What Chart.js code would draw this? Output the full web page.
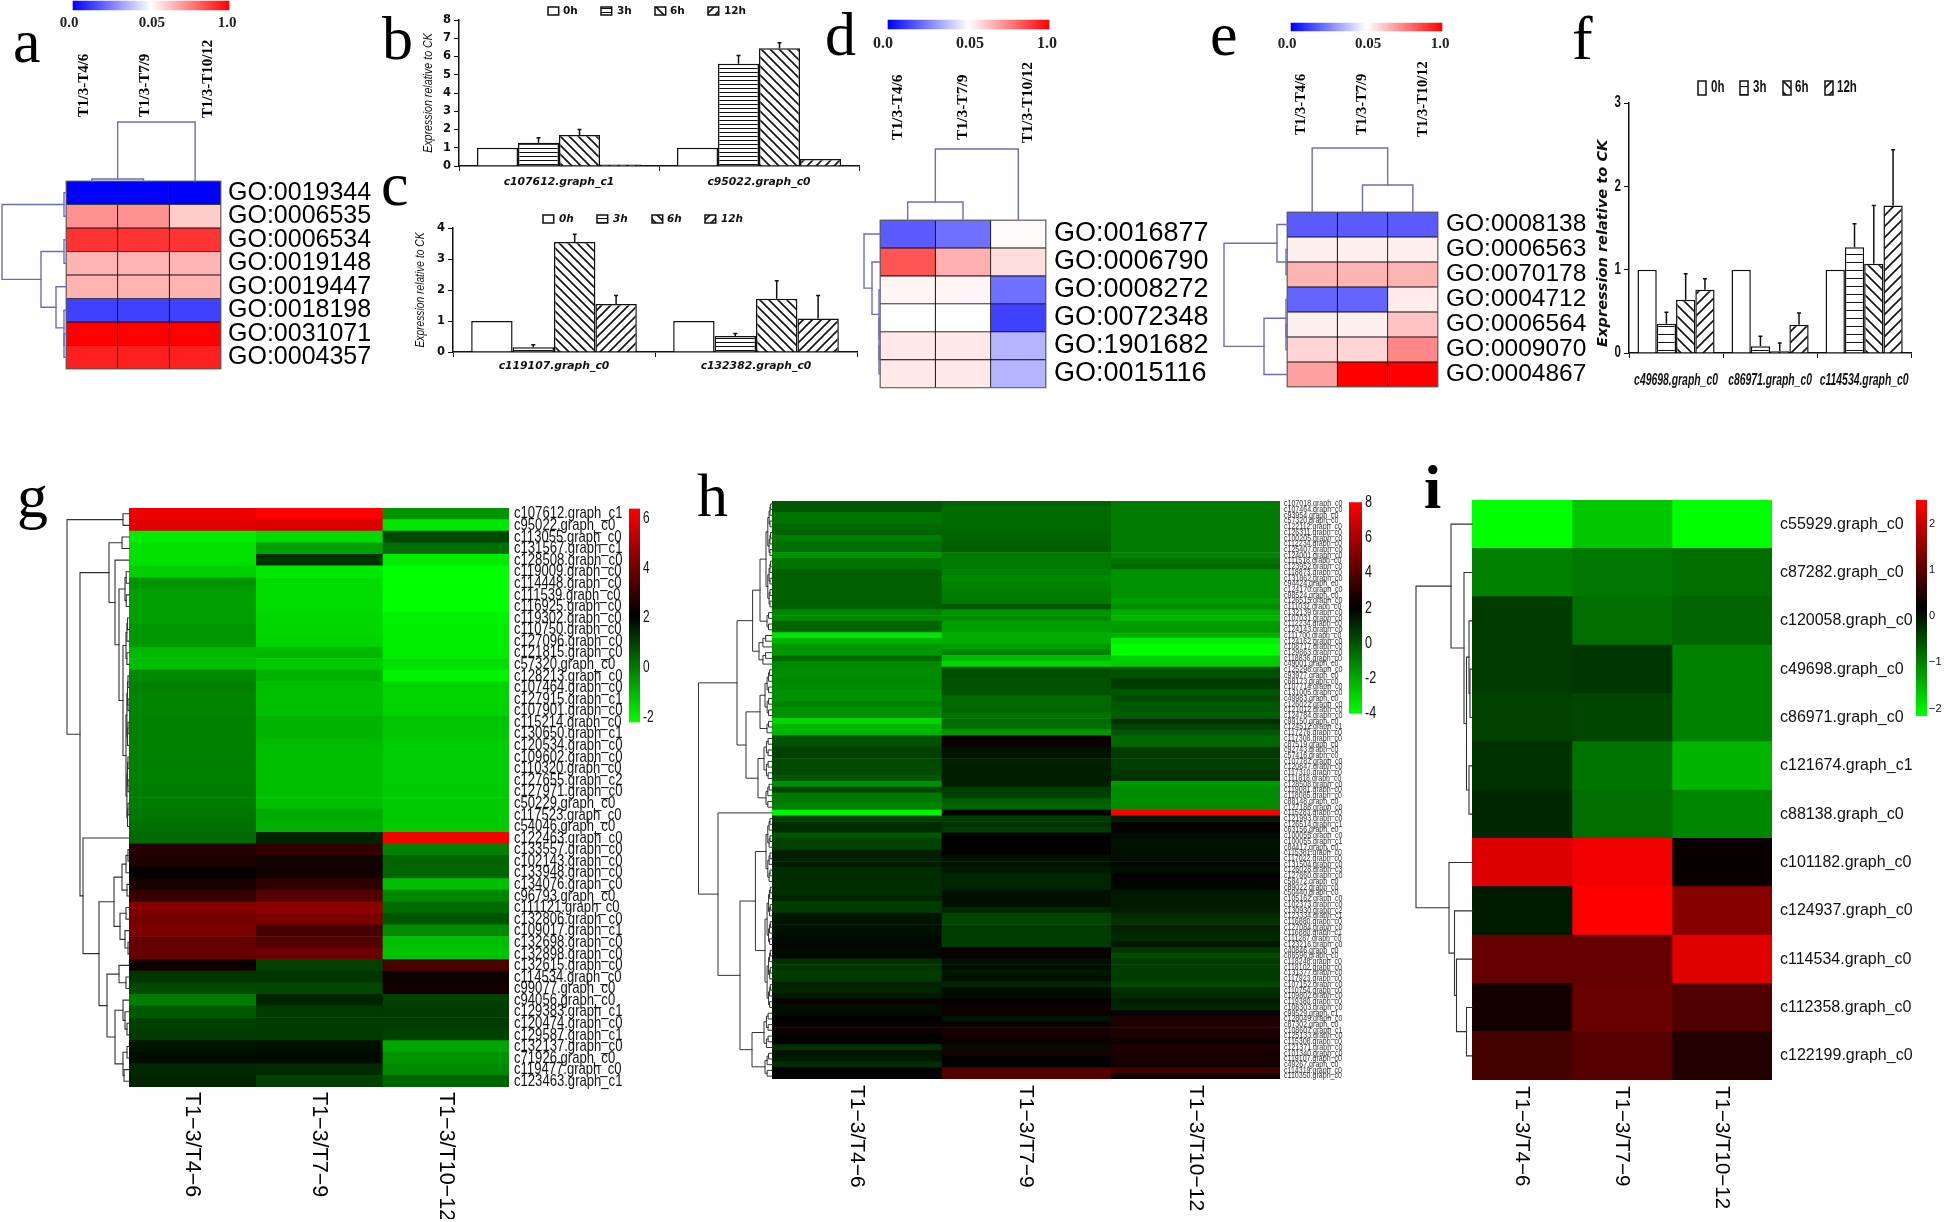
<!DOCTYPE html>
<html><head><meta charset="utf-8">
<script src="https://cdn.jsdelivr.net/npm/chart.js@4"></script>
<style>
html,body{margin:0;padding:0;background:#fff;width:1946px;height:1222px;overflow:hidden}
canvas{position:absolute}
.ltr{position:absolute;line-height:0;font-family:"Liberation Serif",serif;font-size:62px;color:#000;white-space:pre}
</style></head><body>
<script>
/* ---------- data ---------- */
const timeLabels=['0h','3h','6h','12h'];
const bCats=['c107612.graph_c1','c95022.graph_c0'];
const b0h=[1,1], b3h=[1.27,5.6], b6h=[1.7,6.45], b12h=[0.08,0.38];
const bErr3h=[1.55,6.05], bErr6h=[2.0,6.75];
const cCats=['c119107.graph_c0','c132382.graph_c0'];
const c0h=[1,1], c3h=[0.15,0.52], c6h=[3.55,1.72], c12h=[1.55,1.08];
const cErr3h=[0.23,0.6], cErr6h=[3.8,2.3], cErr12h=[1.82,1.82];
const fCats=['c49698.graph_c0','c86971.graph_c0','c114534.graph_c0'];
const f0h=[1,1,1], f3h=[0.35,0.08,1.27], f6h=[0.64,0.02,1.07], f12h=[0.76,0.34,1.77];
const fErr3h=[0.49,0.2,1.55], fErr6h=[0.95,0.12,1.77], fErr12h=[0.89,0.48,2.44];

const goCols=['T1/3-T4/6','T1/3-T7/9','T1/3-T10/12'];
const geneCols=['T1\u22123/T4\u22126','T1\u22123/T7\u22129','T1\u22123/T10\u221212'];
const pTicks=['0.0','0.05','1.0'];

const aRows=['GO:0019344','GO:0006535','GO:0006534','GO:0019148','GO:0019447','GO:0018198','GO:0031071','GO:0004357'];
const aVals=[[0,0,0],[.716,.716,.6],[.9,.9,.9],[.647,.647,.647],[.647,.647,.647],[.125,.125,.125],[1,1,1],[.94,.94,.94]];
const dRows=['GO:0016877','GO:0006790','GO:0008272','GO:0072348','GO:1901682','GO:0015116'];
const dVals=[[.176,.22,.51],[.833,.657,.565],[.52,.52,.22],[.5,.5,.125],[.545,.545,.353],[.545,.545,.353]];
const eRows=['GO:0008138','GO:0006563','GO:0070178','GO:0004712','GO:0006564','GO:0009070','GO:0004867'];
const eVals=[[.176,.176,.176],[.53,.53,.53],[.647,.647,.647],[.196,.196,.54],[.53,.53,.618],[.584,.584,.735],[.686,1,1]];

const gRows=['c107612.graph_c1','c95022.graph_c0','c113055.graph_c0','c131567.graph_c1','c128508.graph_c0','c119009.graph_c0','c114448.graph_c0','c111539.graph_c0','c116925.graph_c0','c119302.graph_c0','c110750.graph_c0','c127096.graph_c0','c121815.graph_c0','c57320.graph_c0','c128213.graph_c0','c107464.graph_c0','c127915.graph_c1','c107901.graph_c0','c115214.graph_c0','c130650.graph_c1','c120534.graph_c0','c109602.graph_c0','c110320.graph_c0','c127655.graph_c2','c127971.graph_c0','c50229.graph_c0','c117523.graph_c0','c54046.graph_c0','c122463.graph_c0','c133557.graph_c0','c102143.graph_c0','c133948.graph_c0','c134076.graph_c0','c96793.graph_c0','c111121.graph_c0','c132806.graph_c0','c109017.graph_c1','c132698.graph_c0','c132898.graph_c0','c132615.graph_c0','c114534.graph_c0','c99077.graph_c0','c94056.graph_c0','c129383.graph_c1','c120474.graph_c0','c129587.graph_c1','c132137.graph_c0','c71926.graph_c0','c119477.graph_c0','c123463.graph_c1'];
const gVals=[[6.1,6.4,-.4],[5.9,5.8,-1.8],[-1.9,-1.6,.9],[-1.7,-.6,.25],[-1.7,1.25,-1.9],[-1.4,-1.8,-2.2],[-.4,-1.6,-2.2],[-.6,-1.6,-2.2],[-.6,-1.6,-2.2],[-.6,-1.55,-2],[-.45,-1.55,-1.9],[-.45,-1.5,-1.9],[-1,-1,-1.9],[-1.1,-1.3,-1.7],[-.2,-.9,-2],[-.1,-1.1,-1.5],[-.15,-1.15,-1.5],[-.15,-1.1,-1.45],[-.1,-.95,-1.2],[-.1,-.95,-1.25],[-.05,-1.05,-1.35],[-.05,-1.1,-1.35],[-.05,-1.1,-1.35],[-.05,-1.1,-1.35],[0,-1.1,-1.3],[0,-1.1,-1.3],[.1,-.8,-1.3],[.2,-.85,-1.3],[.3,1.5,6.3],[2.7,2.95,-.1],[2.6,2.4,.4],[2.15,2.4,.4],[2.5,2.9,-1.1],[3,3.5,-.2],[4.3,4.45,.3],[4.05,4.2,.65],[4.2,3.3,-.25],[3.8,3.5,-1.1],[3.8,3.9,-1.2],[2.35,1,3.35],[1.2,1.2,2.3],[.85,.9,2.4],[0,1.5,1],[.6,1.1,1.1],[1,1.1,1.1],[1.1,1.1,1],[1.75,1.85,-.7],[1.9,1.9,-.4],[1.45,1.4,-.2],[1.5,1,.4]];

const hRows=['c107018.graph_c0','c107464.graph_c0','c93954.graph_c0','c57320.graph_c0','c122112.graph_c0','c126311.graph_c0','c100205.graph_c0','c112234.graph_c0','c125407.graph_c0','c124001.graph_c0','c111518.graph_c0','c123952.graph_c0','c118873.graph_c0','c131862.graph_c0','c94424.graph_c0','c124170.graph_c0','c98524.graph_c0','c126515.graph_c0','c111032.graph_c0','c132139.graph_c0','c107031.graph_c0','c112234.graph_c0','c124143.graph_c0','c111700.graph_c0','c124162.graph_c0','c108717.graph_c0','c129863.graph_c0','c118836.graph_c0','c49001.graph_c0','c125296.graph_c0','c93977.graph_c0','c68173.graph_c0','c107714.graph_c0','c131005.graph_c0','c49983.graph_c0','c126022.graph_c0','c121012.graph_c0','c124784.graph_c0','c99150.graph_c0','c124512.graph_c1','c117276.graph_c0','c117308.graph_c0','c87519.graph_c0','c92743.graph_c0','c57416.graph_c0','c107787.graph_c0','c120847.graph_c0','c117310.graph_c0','c111818.graph_c0','c128508.graph_c0','c119081.graph_c0','c118085.graph_c0','c88148.graph_c0','c127186.graph_c0','c115283.graph_c0','c121993.graph_c0','c126514.graph_c1','c63156.graph_c0','c100055.graph_c0','c100055.graph_c1','c84417.graph_c0','c115381.graph_c0','c117022.graph_c0','c131504.graph_c0','c126028.graph_c3','c127860.graph_c0','c58472.graph_c0','c89022.graph_c0','c50440.graph_c0','c105162.graph_c0','c102373.graph_c0','c130930.graph_c2','c123334.graph_c1','c116880.graph_c0','c127084.graph_c0','c116880.graph_c1','c111287.graph_c0','c123216.graph_c0','c40846.graph_c0','c86596.graph_c0','c118248.graph_c0','c118102.graph_c0','c131377.graph_c0','c117923.graph_c0','c107152.graph_c0','c110754.graph_c0','c109802.graph_c0','c119380.graph_c0','c108303.graph_c0','c99529.graph_c1','c128049.graph_c0','c87302.graph_c0','c108607.graph_c1','c125133.graph_c0','c115308.graph_c0','c121371.graph_c0','c101340.graph_c0','c119107.graph_c0','c49267.graph_c0','c114319.graph_c0','c110350.graph_c0'];
const hVals=[[-.1,-.35,-.9],[-.1,-.55,-.9],[-.7,-.55,-.9],[-.7,-.55,-.9],[-.5,-.5,-.9],[-.35,-.4,-.9],[-.95,-.35,-.9],[-.6,-.3,-.9],[-.6,-.2,-.9],[-1.5,-.9,-1.1],[-.7,-.9,-.7],[-.7,-.9,-.5],[-.25,-1,-1.4],[-.25,-1.25,-1.4],[-.25,-1.1,-1.45],[-.25,-1,-1.4],[-.25,-.95,-1.4],[-.25,-.95,-1.7],[-.3,-.1,-1.4],[-1.2,-1.5,-2],[-1.25,-1.3,-2.3],[-.35,-1.7,-1.7],[-.35,-1.75,-1.6],[-3.4,-2.1,-2.1],[-2.2,-2.1,-3.6],[-1.6,-1.7,-4],[-1.6,-1.1,-4],[-.4,-2.4,-2.9],[-1.2,-3.1,-2.8],[-1.3,.15,.05],[-1.3,.15,.05],[-1.2,.05,.6],[-1.25,.1,.55],[-1.4,.05,-.1],[-1.4,-.5,.2],[-1.1,-.5,-.05],[-1.4,-.4,-.15],[-1.4,-.7,-.2],[-3.1,-.5,.9],[-2.3,-.65,.45],[-2.3,-1.6,0],[.1,2.3,-.5],[.1,2.3,-.5],[.5,1.6,.6],[.5,1.5,.6],[.3,1.2,.55],[.25,1.25,.55],[.25,1.3,.7],[-.1,1.3,.75],[-1.4,1.3,-1.6],[.35,.55,-1.3],[-.8,.5,-1.3],[-.9,-.2,-1.3],[-1.1,-.35,-1.3],[-3.8,1.95,8],[.5,.6,1.4],[1,.85,2.1],[1,.6,2.1],[0,1.95,1.7],[.45,1.95,1.6],[.45,1.95,1.6],[1.3,1.95,1.6],[1.3,1.55,1.7],[1.3,1.55,1.8],[.95,1.35,1.6],[.95,1.1,1.95],[.95,1.1,1.95],[.95,1.15,1.9],[.9,1.6,1.4],[1.15,1.6,1.4],[.55,1.6,1.4],[.55,1.1,1.3],[1.5,.45,1],[1.5,.4,.8],[1.6,.55,1.2],[1.6,.55,1.1],[1.8,.55,1],[1.8,.6,1.5],[1.7,2.2,.7],[1.85,2.2,.2],[.9,1.6,.6],[.7,1.7,.6],[.6,1.4,.6],[.6,1.65,.6],[1.2,1.1,.3],[1.1,1.7,.9],[1.4,1.7,1],[2.25,2.1,1.3],[1.7,2.3,1.1],[1.7,2.3,1.9],[2,1.5,2.7],[2.2,2.2,2.7],[2.3,2.55,2.7],[2.05,2.4,2.7],[2.05,2.3,2.35],[.8,1.7,2.7],[1.5,2.5,2.6],[1.4,2.05,2.55],[.9,2.05,2.5],[2,4,3.5],[2,4,2.4]];

const iRows=['c55929.graph_c0','c87282.graph_c0','c120058.graph_c0','c49698.graph_c0','c86971.graph_c0','c121674.graph_c1','c88138.graph_c0','c101182.graph_c0','c124937.graph_c0','c114534.graph_c0','c112358.graph_c0','c122199.graph_c0'];
const iVals=[[-2.16,-1.65,-2.16],[-1,-.92,-.83],[-.37,-.83,-.74],[-.37,-.32,-1],[-.42,-.46,-1],[-.28,-.88,-1.47],[-.19,-.83,-1.06],[2.2,2.38,.25],[-.08,2.52,1.42],[1.1,1.1,2.24],[.36,1.14,.91],[.82,.96,.5]];

const gScaleTicks=[6,4,2,0,-2], hScaleTicks=[8,6,4,2,0,-2,-4], iScaleTicks=[2,1,0,-1,-2];

/* cluster trees: [merge height, left, right], leaves are row numbers */
const bis=(lo,hi,h)=>{if(lo===hi)return lo;const m=(lo+hi)>>1;return [h,bis(lo,m,h*.7),bis(m+1,hi,h*.7)];};
const treeA=[64,[2,0,1],[25,[2,2,3],[10,4,[2,5,[2,6,7]]]]], topA=[59,[2,0,1],2];
const treeD=[16,0,[8,1,[1,2,[1,3,[1,4,5]]]]], topD=[71,[18,0,1],2];
const treeE=[63,[10,0,[1,1,2]],[23,[1,3,[1,4,5]],6]], topE=[64,0,[27,1,2]];
const treeG=[62,[6,0,1],[49,[20,[7,2,3],[14,4,[10,bis(5,8,4),[6,bis(9,13,3),bis(14,27,3)]]]],[46,28,[30,[15,[7,[3,[1,29,30],31],[2,32,33]],[9,[3,34,35],[4,36,[1,37,38]]]],[22,[10,39,[3,40,41]],[14,[6,42,[4,43,[2,44,45]]],[6,[2,46,47],[5,48,49]]]]]]]];
const treeH=[73.5,[35,[19.4,[12,bis(0,18,6),bis(19,22,5)],bis(23,28,13)],[26,[12,bis(29,37,7),bis(38,40,5)],[14,bis(41,48,8),bis(49,53,6)]]],[54,54,[32,[16.6,bis(55,66,6),bis(67,88,7)],[20,bis(89,95,8),bis(96,100,7)]]]];
const treeI=[56,[21,0,[8,1,[5.5,[3,2,[2,3,4]],[3,5,6]]]],[23,7,[17.5,8,[15.5,9,[5.5,10,11]]]]];

/* ---------- helpers ---------- */
Chart.defaults.animation=false;
Chart.defaults.responsive=false;
Chart.defaults.devicePixelRatio=1;
Chart.defaults.plugins.legend.display=false;
Chart.defaults.plugins.tooltip.enabled=false;
Chart.defaults.color='#000';
const SANS='"Liberation Sans",Arial,sans-serif', SERIF='"Liberation Serif",serif', DEJA='"DejaVu Sans",sans-serif';

function mkCanvas(x,y,w,h,squeeze){const c=document.createElement('canvas');c.width=w;c.height=h;c.style.left=x+'px';c.style.top=y+'px';c.style.width=w+'px';c.style.height=h+'px';document.body.appendChild(c);
  if(squeeze){const ctx=c.getContext('2d'),f=ctx.fillText.bind(ctx);ctx.fillText=(t,px,py)=>{const k=squeeze(t);return k<1?f(t,px,py,ctx.measureText(t).width*k):f(t,px,py);};}
  return c;}
const clamp=v=>Math.max(0,Math.min(255,Math.round(v)));
const bwr=v=>v<.5?`rgb(${clamp(510*v)},${clamp(510*v)},255)`:`rgb(255,${clamp(510*(1-v))},${clamp(510*(1-v))})`;
const gbr=(lo,hi)=>v=>{const mid=(lo+hi)/2,half=(hi-lo)/2;return v<mid?`rgb(0,${clamp((mid-v)/half*255)},0)`:`rgb(${clamp((v-mid)/half*255)},0,0)`;};

function pat(kind,sp,lw){
  const c=document.createElement('canvas');const x=c.getContext('2d');
  if(kind==='h'){c.width=8;c.height=sp;x.fillStyle='#fff';x.fillRect(0,0,8,sp);x.fillStyle='#111';x.fillRect(0,0,8,lw);}
  else{c.width=sp;c.height=sp;x.fillStyle='#fff';x.fillRect(0,0,sp,sp);x.strokeStyle='#111';x.lineWidth=lw;x.lineCap='square';
    const line=(a,b,d,e)=>{x.beginPath();x.moveTo(a,b);x.lineTo(d,e);x.stroke();};
    if(kind==='b'){line(-sp,0,sp,2*sp);line(0,0,sp,sp);line(0,-sp,2*sp,sp);}
    else{line(0,sp,sp,0);line(-sp,sp,sp,-sp);line(0,2*sp,2*sp,0);}}
  return x.createPattern(c,'repeat');
}

const treePlugin={id:'treePlugin',afterDraw(ch,_,o){
  const ctx=ch.ctx,xs=ch.scales.x,ys=ch.scales.y,a=ch.chartArea;
  ctx.save();ctx.strokeStyle=o.color;ctx.lineWidth=o.width;ctx.lineCap='square';
  const walk=(n,pos,seg)=>{if(typeof n==='number')return{p:pos(n),d:0};const A=walk(n[1],pos,seg),B=walk(n[2],pos,seg);seg(A,B,n[0]);return{p:(A.p+B.p)/2,d:n[0]};};
  if(o.left)walk(o.left,i=>ys.getPixelForValue(i),(A,B,h)=>{ctx.beginPath();ctx.moveTo(a.left-A.d,A.p);ctx.lineTo(a.left-h,A.p);ctx.lineTo(a.left-h,B.p);ctx.lineTo(a.left-B.d,B.p);ctx.stroke();});
  if(o.top)walk(o.top,i=>xs.getPixelForValue(i+.5),(A,B,h)=>{ctx.beginPath();ctx.moveTo(A.p,a.top-A.d);ctx.lineTo(A.p,a.top-h);ctx.lineTo(B.p,a.top-h);ctx.lineTo(B.p,a.top-B.d);ctx.stroke();});
  if(o.frame){ctx.strokeStyle=o.frame;ctx.lineWidth=1;ctx.strokeRect(a.left,a.top,a.right-a.left,a.bottom-a.top);}
  ctx.restore();
  if(o.cols){const c=o.cols;ctx.save();ctx.fillStyle='#000';ctx.font=c.font;ctx.textAlign='left';ctx.textBaseline='middle';
    c.text.forEach((t,i)=>{ctx.save();ctx.translate(xs.getPixelForValue(i+.5)+(c.dx?c.dx[i]:0),c.up?a.top-c.gaps[i]:a.bottom+c.gaps[i]);ctx.rotate(c.up?-Math.PI/2:Math.PI/2);ctx.fillText(t,0,0);ctx.restore();});ctx.restore();}
}};

function heat(p){
  const padL=p.padL,padT=p.padT,padB=p.padB,w=p.right-p.left,h=p.bottom-p.top;
  const cv=mkCanvas(p.left-padL,p.top-padT,padL+w+p.labelW,padT+h+padB,p.squeeze);
  const nc=p.vals[0].length;
  new Chart(cv,{type:'bar',plugins:[treePlugin],
   data:{labels:p.rows,datasets:p.cols.map((name,c)=>({label:name,data:p.vals.map((r,k)=>({x:[c,c+1],y:k,v:r[c]})),
     backgroundColor:ctx=>p.color(ctx.raw.v),borderColor:p.line||'transparent',borderWidth:p.lineW||0,borderSkipped:false,grouped:false,barPercentage:1,categoryPercentage:1}))},
   options:{indexAxis:'y',layout:{padding:{left:padL,top:padT,bottom:padB,right:0}},
    scales:{x:{type:'linear',display:false,min:0,max:nc},
      y:{type:'category',position:'right',grid:{display:false,drawTicks:false},border:{display:false},afterFit:s=>{s.width=p.labelW;},
         ticks:{autoSkip:false,padding:p.labelPad,font:p.font,color:p.labelColor||'#000'}}},
    plugins:{treePlugin:{left:p.tree,top:p.topTree,color:p.treeColor,width:p.treeW,frame:p.frame,cols:p.colLabels}}}});
}

const errPlugin={id:'errPlugin',afterDatasetsDraw(ch,_,o){
  const ctx=ch.ctx;ctx.save();ctx.strokeStyle='#111';ctx.lineWidth=o.width||1.5;
  ch.data.datasets.forEach((ds,di)=>{if(!ds.errTop)return;const m=ch.getDatasetMeta(di);ds.errTop.forEach((e,i)=>{if(e==null)return;const el=m.data[i],y=ch.scales.y.getPixelForValue(e);
    ctx.beginPath();ctx.moveTo(el.x,el.y);ctx.lineTo(el.x,y);ctx.moveTo(el.x-2,y);ctx.lineTo(el.x+2,y);ctx.stroke();});});
  ctx.restore();
}};
const hatchLegend={id:'hatchLegend',afterDraw(ch,_,o){
  const ctx=ch.ctx;ctx.save();ctx.font=o.font;ctx.textBaseline='middle';ctx.textAlign='left';
  ch.data.datasets.forEach((ds,i)=>{const x=o.box[i],y=o.y-o.h/2;ctx.fillStyle=ds.backgroundColor;ctx.fillRect(x,y,o.w,o.h);ctx.strokeStyle='#111';ctx.lineWidth=1.5;ctx.strokeRect(x,y,o.w,o.h);ctx.fillStyle='#111';ctx.fillText(ds.label,o.text[i],o.y);});
  ctx.restore();
}};

function bars(p){
  const padT=p.padT,w=p.right-p.left,h=p.bottom-p.top,rx=p.right+3>1946?1946-p.right:3;
  const L=p.left-p.axisW,T=p.top-padT;
  const cv=mkCanvas(L,T,p.axisW+w+rx,padT+h+p.xH,p.squeeze);
  const fills=[ '#fff',pat('h',p.hs,1),pat('b',p.ds,1.6),pat('f',p.ds,1.6)];
  new Chart(cv,{type:'bar',plugins:[errPlugin,hatchLegend],
   data:{labels:p.cats,datasets:p.series.map((d,i)=>({label:timeLabels[i],data:d,errTop:p.errs[i],backgroundColor:fills[i],borderColor:'#111',borderWidth:1.5,barPercentage:1,categoryPercentage:.82}))},
   options:{layout:{padding:{left:0,right:rx,top:padT,bottom:0}},
    scales:{
     x:{type:'category',afterFit:s=>{s.height=p.xH;},grid:{display:true,drawOnChartArea:false,drawTicks:true,tickLength:5,color:'#111',offset:true},border:{display:true,color:'#111',width:1.5},
        ticks:{padding:p.xPad,font:p.xFont,color:'#111',maxRotation:0,autoSkip:false}},
     y:{type:'linear',min:0,max:p.yMax,afterFit:s=>{s.width=p.axisW;},grid:{display:true,drawOnChartArea:false,drawTicks:true,tickLength:5,color:'#111'},border:{display:true,color:'#111',width:1.5},
        ticks:{stepSize:1,padding:3,font:p.yFont,color:'#111'},
        title:{display:true,text:p.title,font:p.titleFont,color:'#111',padding:{top:p.titlePad,bottom:0}}}},
    plugins:{hatchLegend:{font:p.legFont,y:p.legY-T,w:p.legW,h:p.legH,box:p.legBox.map(v=>v-L),text:p.legText.map(v=>v-L)}}}});
}

function hBar(p){
  const m=34,span=p.one-p.zero,top=p.top,bh=p.bottom-p.top,t=Math.min(top,4);
  const cv=mkCanvas(p.zero-m,top-t,span+2*m,t+bh+30);
  new Chart(cv,{type:'bar',
   data:{labels:['scale'],datasets:[{label:'scale',data:[[ (p.barL-p.zero)/span,(p.barR-p.zero)/span ]],clip:false,barPercentage:1,categoryPercentage:1,borderWidth:0,
     backgroundColor:c=>{const a=c.chart.chartArea;if(!a)return'#fff';const g=c.chart.ctx.createLinearGradient(p.barL-p.zero+m,0,p.barR-p.zero+m,0);g.addColorStop(0,'#0000ff');g.addColorStop(.5,'#ffffff');g.addColorStop(1,'#ff0000');return g;}}]},
   options:{indexAxis:'y',layout:{padding:{left:m,right:m,top:t,bottom:0}},
    scales:{y:{display:false},
     x:{type:'linear',position:'bottom',min:0,max:1,afterFit:s=>{s.height=30;},afterBuildTicks:s=>{s.ticks=[0,p.mid,1].map(v=>({value:v}));},
        grid:{display:false,drawTicks:false},border:{display:false},
        ticks:{autoSkip:false,padding:p.pad,color:'#222',font:{family:SERIF,size:p.size,weight:'bold'},callback:(v,i)=>pTicks[i]}}}}});
}
function vBar(p){
  const m=12;
  const cv=mkCanvas(p.left,p.top-m,p.width+34,p.bottom-p.top+2*m,p.squeeze);
  new Chart(cv,{type:'bar',
   data:{labels:['scale'],datasets:[{label:'scale',data:[[p.min,p.max]],barPercentage:1,categoryPercentage:1,borderWidth:0,
     backgroundColor:c=>{const a=c.chart.chartArea;if(!a)return'#000';const g=c.chart.ctx.createLinearGradient(0,a.bottom,0,a.top);g.addColorStop(0,'#00ff00');g.addColorStop(.5,'#000000');g.addColorStop(1,'#ff0000');return g;}}]},
   options:{layout:{padding:{left:0,right:0,top:m,bottom:m}},
    scales:{x:{display:false},
     y:{type:'linear',position:'right',min:p.min,max:p.max,afterFit:s=>{s.width=34;},afterBuildTicks:s=>{s.ticks=p.ticks.map(v=>({value:v}));},
        grid:{display:false,drawTicks:false},border:{display:false},
        ticks:{autoSkip:false,padding:p.pad,color:'#111',font:p.font,callback:v=>String(v).replace('-',p.minus||'-')}}}}});
}

/* ---------- panels ---------- */
const topFont=s=>`bold ${s}px ${SERIF}`;
const narrowTitle=k=>t=>t.startsWith('Expression')?k:1;
hBar({zero:69,one:227,barL:73,barR:229,top:1,bottom:10,mid:.525,size:15,pad:4});
hBar({zero:883,one:1047,barL:888,barR:1049,top:20,bottom:29,mid:.53,size:16,pad:5});
hBar({zero:1287,one:1440,barL:1291,barR:1442,top:23,bottom:31,mid:.53,size:15,pad:4});

heat({left:66,right:221,top:181,bottom:369,padL:66,padT:181,padB:24,labelW:160,rows:aRows,vals:aVals,cols:goCols,color:bwr,line:'#111',lineW:.8,frame:'#777',
  font:{family:SANS,size:25},labelPad:7,tree:treeA,topTree:topA,treeColor:'#6c6cc0',treeW:1.4,
  colLabels:{text:goCols,dx:[-8,2,13],gaps:[64,64,63],up:true,font:topFont(15)}});
heat({left:880,right:1046,top:220,bottom:388,padL:20,padT:172,padB:24,labelW:170,rows:dRows,vals:dVals,cols:goCols,color:bwr,line:'#111',lineW:.8,frame:'#777',
  font:{family:SANS,size:27},labelPad:8,tree:treeD,topTree:topD,treeColor:'#6c6cc0',treeW:1.4,
  colLabels:{text:goCols,dx:[-10,0,10],gaps:[80,80,77],up:true,font:topFont(15.5)}});
heat({left:1287,right:1438,top:212,bottom:387,padL:66,padT:165,padB:24,labelW:155,rows:eRows,vals:eVals,cols:goCols,color:bwr,line:'#111',lineW:.8,frame:'#777',
  font:{family:SANS,size:24.5},labelPad:8,tree:treeE,topTree:topE,treeColor:'#6c6cc0',treeW:1.4,
  colLabels:{text:goCols,dx:[-10.5,0,10.5],gaps:[77,77,75],up:true,font:topFont(14.5)}});

bars({left:459,right:859,top:20,bottom:166,padT:20,axisW:44,xH:24,yMax:8,cats:bCats,series:[b0h,b3h,b6h,b12h],errs:[null,bErr3h,bErr6h,null],
  hs:4.4,ds:9,xPad:5,xFont:{family:DEJA,size:10.8,style:'italic',weight:'bold'},yFont:{family:DEJA,size:11.5,weight:'bold'},
  title:'Expression relative to CK',titleFont:{family:SANS,size:13,style:'italic'},titlePad:6,squeeze:narrowTitle(.82),
  legFont:`bold 10.5px ${DEJA}`,legY:11,legW:10.7,legH:8,legBox:[548,601,655,708],legText:[563,617,670,724]});
bars({left:453,right:857,top:228,bottom:352,padT:18,axisW:44,xH:24,yMax:4,cats:cCats,series:[c0h,c3h,c6h,c12h],errs:[null,cErr3h,cErr6h,cErr12h],
  hs:4.4,ds:9,xPad:3,xFont:{family:DEJA,size:10.8,style:'italic',weight:'bold'},yFont:{family:DEJA,size:11.5,weight:'bold'},
  title:'Expression relative to CK',titleFont:{family:SANS,size:12.5,style:'italic'},titlePad:4,squeeze:narrowTitle(.82),
  legFont:`italic bold 10.5px ${DEJA}`,legY:219,legW:10.7,legH:8,legBox:[543,597,652,705],legText:[559,613,667,721]});
bars({left:1629,right:1943,top:103,bottom:353,padT:25,axisW:36,xH:36,yMax:3,cats:fCats,series:[f0h,f3h,f6h,f12h],errs:[null,fErr3h,fErr6h,fErr12h],
  hs:8,ds:11,xPad:13,xFont:{family:SANS,size:16,style:'italic',weight:'bold'},yFont:{family:SANS,size:16,weight:'bold'},
  title:'Expression relative to CK      ',titleFont:{family:DEJA,size:14.6,style:'italic',weight:'bold'},titlePad:1,
  squeeze:t=>t.startsWith('Expression')?1:(t.startsWith('c')?.65:.72),
  legFont:`bold 16px ${SANS}`,legY:88,legW:8,legH:14,legBox:[1698,1740,1783,1825],legText:[1711,1753,1795,1837]});

const gbG=gbr(-2.2,6.4),gbH=gbr(-4,8),gbI=gbr(-2.16,2.52);
const rowsOnly=k=>t=>t.startsWith('c')?k:1;
heat({left:129,right:509,top:508,bottom:1087,padL:66,padT:20,padB:132,labelW:116,rows:gRows,vals:gVals,cols:geneCols,color:gbG,squeeze:rowsOnly(.77),
  font:{family:SANS,size:17},labelPad:5,labelColor:'#111',tree:treeG,treeColor:'#333',treeW:1.1,
  colLabels:{text:geneCols,gaps:[5,5,5],up:false,font:`21.5px ${SANS}`}});
vBar({left:629,width:11,top:508,bottom:723,min:-2.2,max:6.4,ticks:gScaleTicks,pad:3,font:{family:SANS,size:16},squeeze:()=>.74});
heat({left:772,right:1280,top:501,bottom:1079,padL:76,padT:20,padB:140,labelW:66,rows:hRows,vals:hVals,cols:geneCols,color:gbH,squeeze:rowsOnly(.83),
  font:{family:SANS,size:8.5},labelPad:4,labelColor:'#333',tree:treeH,treeColor:'#333',treeW:1,
  colLabels:{text:geneCols,gaps:[6,6,6],up:false,font:`21px ${SANS}`}});
vBar({left:1349,width:13,top:501,bottom:715,min:-4,max:8,ticks:hScaleTicks,pad:3,font:{family:SANS,size:17},squeeze:()=>.74});
heat({left:1472,right:1772,top:500,bottom:1080,padL:60,padT:20,padB:136,labelW:140,rows:iRows,vals:iVals,cols:geneCols,color:gbI,
  font:{family:SANS,size:16},labelPad:8,labelColor:'#111',tree:treeI,treeColor:'#333',treeW:1.1,
  colLabels:{text:geneCols,gaps:[6,6,6],up:false,font:`20.5px ${SANS}`}});
vBar({left:1916,width:11,top:500,bottom:716,min:-2.16,max:2.52,ticks:iScaleTicks,pad:2,minus:'\u2212',font:{family:SANS,size:11}});

/* panel letters */
[['a',13,62],['b',382,59],['c',381,205],['d',825,55],['e',1210,55],['f',1572,59],['g',17,517],['h',697,516],['i',1424,508]].forEach(([t,x,y])=>{
  const s=document.createElement('div');s.className='ltr';s.textContent=t;s.style.left=x+'px';s.style.top=(y-21)+'px';if(t==='i')s.style.fontWeight='bold';document.body.appendChild(s);});
</script>
</body></html>
